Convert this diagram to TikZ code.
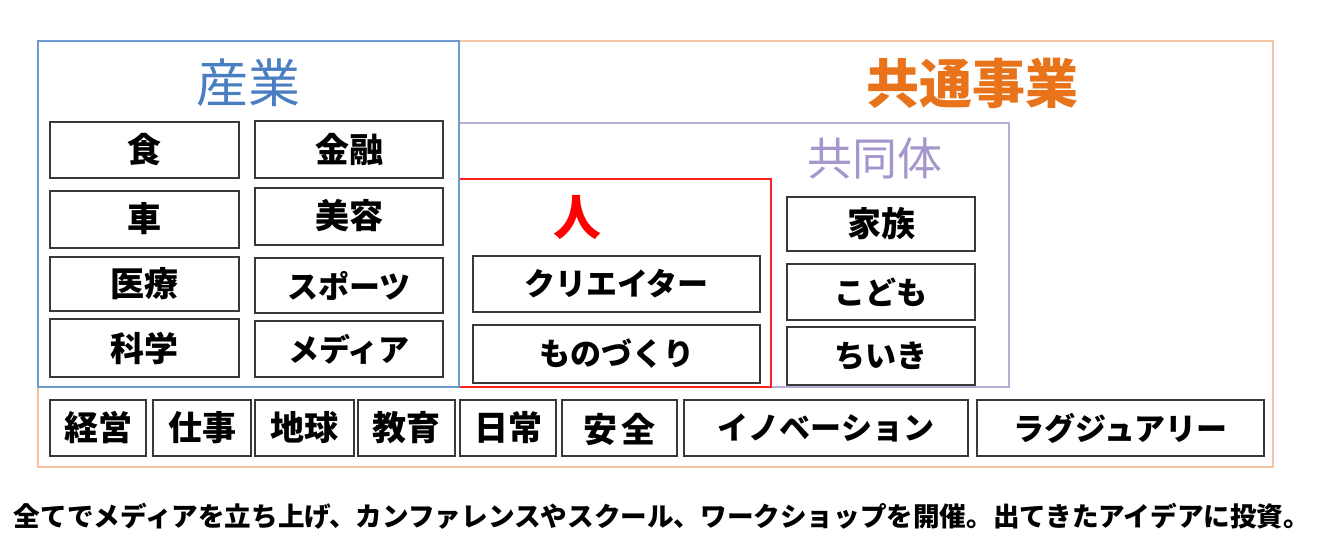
\documentclass[tikz,border=0pt]{standalone}
\usepackage{fontspec}
\setmainfont{Noto Sans CJK JP}
\begin{document}
\begin{tikzpicture}[x=1pt,y=-1pt,
  box/.style={draw=black!78,line width=2pt,inner sep=0pt,font=\fontsize{34}{38}\selectfont\bfseries},
  kanabox/.style={box,font=\fontsize{31}{35}\selectfont\bfseries},
  area/.style={line width=1.5pt},
  head/.style={inner sep=0pt,font=\fontsize{52}{58}\selectfont}]
\definecolor{orgline}{HTML}{F6C3A3}
\definecolor{orgtext}{HTML}{E8731A}
\definecolor{blueline}{HTML}{6C9BD2}
\definecolor{bluetext}{HTML}{4A7EC2}
\definecolor{purpline}{HTML}{B9ADD8}
\definecolor{purptext}{HTML}{A596CC}
\definecolor{redline}{HTML}{FF2020}
\useasboundingbox (0,0) rectangle (1322,544);
\fill[white] (0,0) rectangle (1322,544);
% areas
\draw[area,orgline] (38,41) rectangle (1273,467);
\draw[area,purpline] (459,123) rectangle (1009,387);
\draw[area,redline] (459,179) rectangle (771,387);
\draw[area,blueline] (38,41) rectangle (459,387);
% headings
\node[head,text=bluetext] (hsangyo) at (248,83) {産業};
\node[head,text=orgtext,font=\fontsize{53}{58}\selectfont\bfseries] (hkyotsu) at (972,83) {共通事業};
\node[head,text=purptext,font=\fontsize{45}{50}\selectfont] (hkyodo) at (875,159) {共同体};
\node[head,text=red,font=\fontsize{48}{54}\selectfont\bfseries] (hhito) at (577,218) {人};
% industry boxes
\node[box,minimum width=189pt,minimum height=56pt] (shoku) at (144.5,150) {食};
\node[box,minimum width=188pt,minimum height=57pt] (kinyu) at (349,149.5) {金融};
\node[box,minimum width=189pt,minimum height=57pt] (kuruma) at (144.5,219) {車};
\node[box,minimum width=188pt,minimum height=57pt] (biyo) at (349,216) {美容};
\node[box,minimum width=189pt,minimum height=54pt] (iryo) at (144.5,284) {医療};
\node[kanabox,minimum width=188pt,minimum height=55pt] (sports) at (349,285.5) {スポーツ};
\node[box,minimum width=189pt,minimum height=58pt] (kagaku) at (144.5,348) {科学};
\node[kanabox,minimum width=188pt,minimum height=56pt] (media) at (349,349) {メディア};
% people
\node[kanabox,minimum width=287pt,minimum height=56pt] (creator) at (616.5,284) {クリエイター};
\node[kanabox,minimum width=287pt,minimum height=58pt] (monozukuri) at (616.5,354) {ものづくり};
% community
\node[box,minimum width=188pt,minimum height=54pt] (kazoku) at (881,224) {家族};
\node[kanabox,minimum width=188pt,minimum height=56pt] (kodomo) at (881,292) {こども};
\node[kanabox,minimum width=188pt,minimum height=58pt] (chiiki) at (881,356) {ちいき};
% common row
\node[box,minimum width=96pt,minimum height=56pt] (keiei) at (98,428) {経営};
\node[box,minimum width=98pt,minimum height=56pt] (shigoto) at (202,428) {仕事};
\node[box,minimum width=99pt,minimum height=56pt] (chikyu) at (304.5,428) {地球};
\node[box,minimum width=97pt,minimum height=56pt] (kyoiku) at (406.5,428) {教育};
\node[box,minimum width=96pt,minimum height=56pt] (nichijo) at (508,428) {日常};
\node[box,minimum width=115pt,minimum height=56pt,text depth=-8pt] (anzen) at (619.5,428) {安\hspace{4pt}全};
\node[kanabox,minimum width=284pt,minimum height=56pt] (innov) at (826,428) {イノベーション};
\node[kanabox,minimum width=287pt,minimum height=56pt] (luxury) at (1120.5,428) {ラグジュアリー};
% caption
\node[inner sep=0pt,font=\fontsize{26.6}{30}\selectfont\bfseries] (caption) at (662,516) {全てでメディアを立ち上げ、カンファレンスやスクール、ワークショップを開催。出てきたアイデアに投資。};
\end{tikzpicture}
\end{document}
